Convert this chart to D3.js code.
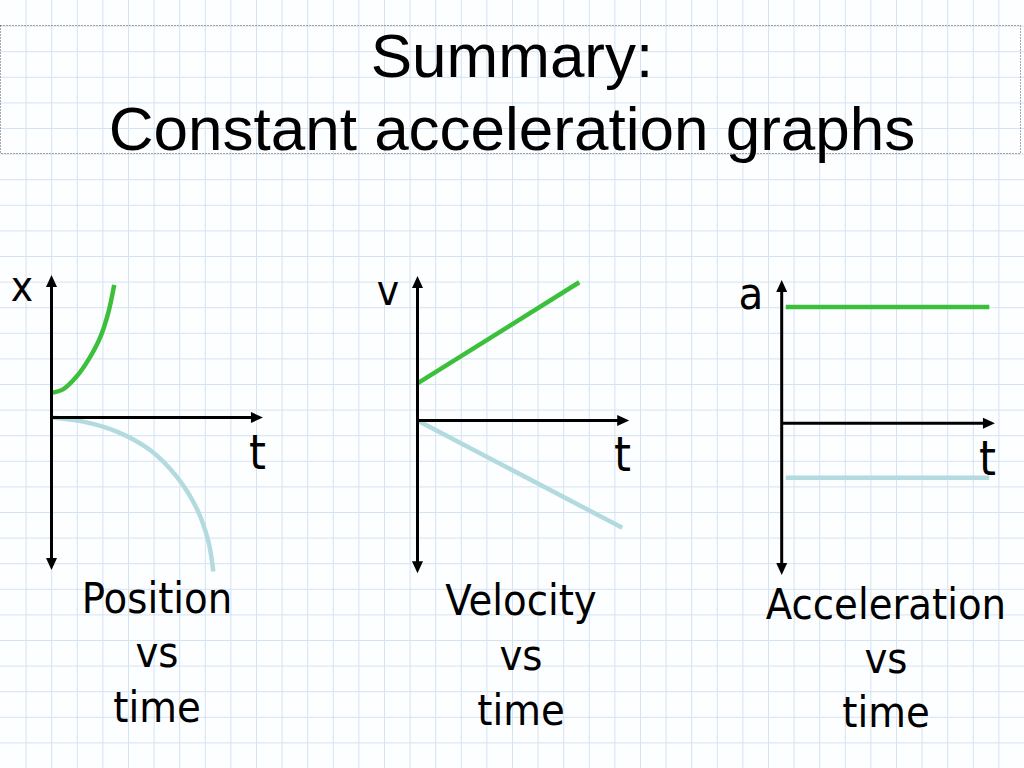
<!DOCTYPE html>
<html><head><meta charset="utf-8">
<script src="https://cdn.jsdelivr.net/npm/d3@7"></script>
<style>body{margin:0;background:#fff}svg{display:block}</style>
</head><body><svg id="c" width="1024" height="768"></svg>
<script>
// ---- text ----
const titleLines = ["Summary:", "Constant acceleration graphs"];
const panelNames = ["Position", "Velocity", "Acceleration"];
const vsLines = ["vs", "time"];
const axisLabels = ["x", "v", "a"];
const timeLabel = "t";
// ---- data (grid-cell units: [t, value]) ----
const posIncreasing = [[0.0,0.97],[0.45,1.1],[0.98,1.6],[1.44,2.25],[1.89,3.1],[2.22,4.1],[2.45,5.18]];
const posDecreasing = [[0,0],[1.24,-0.16],[2.55,-0.55],[3.85,-1.27],[4.89,-2.31],[5.67,-3.55],[6.13,-4.85],[6.32,-6.02]];
const velIncreasing = [[0,1.45],[6.32,5.40]];
const velDecreasing = [[0,0],[8.0,-4.19]];
const accPositive = [[0.16,4.54],[8.11,4.54]];
const accNegative = [[0.16,-2.13],[8.11,-2.13]];
const axisTEnd = [8.26, 8.27, 8.33];
const axisTop = [5.57, 5.64, 5.6];
const axisBottom = [-5.96, -5.97, -5.93];

const W = 1024, H = 768, cell = 25.6;
const svg = d3.select("#c");
const GREEN = "#3cc03c", BLUE = "#b3dadf";

// grid background
const gx = d3.scaleLinear().domain([0, 40]).range([0, W]);
const gy = d3.scaleLinear().domain([0, 30]).range([0, H]);
svg.append("rect").attr("width", W).attr("height", H).attr("fill", "#fdfeff");
svg.append("g").selectAll("line").data(d3.range(1, 40)).join("line")
  .attr("x1", d => gx(d) + 0.5).attr("x2", d => gx(d) + 0.5).attr("y1", 0).attr("y2", H)
  .attr("stroke", "#d4e3f2").attr("stroke-width", 1);
svg.append("g").selectAll("line").data(d3.range(1, 30)).join("line")
  .attr("y1", d => gy(d) + 0.5).attr("y2", d => gy(d) + 0.5).attr("x1", 0).attr("x2", W)
  .attr("stroke", "#d4e3f2").attr("stroke-width", 1);

// title box
svg.append("rect").attr("x", 0.5).attr("y", 25.5).attr("width", 1020).attr("height", 128)
  .attr("fill", "none").attr("stroke", "#555").attr("stroke-width", 1).attr("stroke-dasharray", "1,2");
svg.append("g").selectAll("text").data(titleLines).join("text")
  .attr("x", 512).attr("y", (d, i) => [77, 150][i])
  .attr("text-anchor", "middle").attr("font-family", "'Liberation Sans', Arial, sans-serif")
  .attr("font-size", 62).attr("fill", "#000").text(d => d);

const origins = [[51.5, 417.5], [417.5, 420.5], [781.7, 423.3]];
const seriesByPanel = [
  [[posIncreasing, GREEN], [posDecreasing, BLUE]],
  [[velIncreasing, GREEN], [velDecreasing, BLUE]],
  [[accPositive, GREEN], [accNegative, BLUE]]
];
const axisLabelPos = [[22, 301, 42], [388, 305, 42], [751, 309, 45]];
const tLabelPos = [[257.5, 469], [622.5, 471], [987.5, 475]];
const nameCenters = [157, 521, 886];
const nameBaselines = [[613, 667, 722], [615, 670, 725], [619, 673, 727]];
const labelFont = "'DejaVu Sans Condensed', 'DejaVu Sans', sans-serif";

function arrow(g, x, y, dir) {
  const L = 12, Wd = 5.5;
  let pts;
  if (dir === "up") pts = [[x, y], [x - Wd, y + L], [x + Wd, y + L]];
  else if (dir === "down") pts = [[x, y], [x - Wd, y - L], [x + Wd, y - L]];
  else pts = [[x, y], [x - L, y - Wd], [x - L, y + Wd]];
  g.append("path").attr("d", d3.line()(pts) + "Z").attr("fill", "#000");
}

origins.forEach(([ox, oy], i) => {
  const x = d3.scaleLinear().domain([0, 1]).range([ox, ox + cell]);
  const y = d3.scaleLinear().domain([0, 1]).range([oy, oy - cell]);
  const g = svg.append("g");

  seriesByPanel[i].forEach(([data, col]) => {
    g.append("path").datum(data)
      .attr("d", d3.line().x(d => x(d[0])).y(d => y(d[1])).curve(d3.curveCatmullRom.alpha(0.5)))
      .attr("fill", "none").attr("stroke", col).attr("stroke-width", 4.5)
      .attr("stroke-linecap", "butt");
  });

  const yTop = y(axisTop[i]), yBot = y(axisBottom[i]), xEnd = x(axisTEnd[i]);
  g.append("line").attr("x1", x(0)).attr("x2", x(0)).attr("y1", yTop + 8).attr("y2", yBot - 8)
    .attr("stroke", "#000").attr("stroke-width", 3);
  g.append("line").attr("x1", x(0)).attr("x2", xEnd - 8).attr("y1", y(0)).attr("y2", y(0))
    .attr("stroke", "#000").attr("stroke-width", 3);
  arrow(g, x(0), yTop, "up");
  arrow(g, x(0), yBot, "down");
  arrow(g, xEnd, y(0), "right");

  const [lx, ly, ls] = axisLabelPos[i];
  g.append("text").attr("x", lx).attr("y", ly).attr("text-anchor", "middle")
    .attr("font-family", labelFont).attr("font-size", ls).text(axisLabels[i]);
  g.append("text").attr("x", tLabelPos[i][0]).attr("y", tLabelPos[i][1]).attr("text-anchor", "middle")
    .attr("font-family", labelFont).attr("font-size", 48).text(timeLabel);

  g.append("g").selectAll("text").data([panelNames[i], ...vsLines]).join("text")
    .attr("x", nameCenters[i]).attr("y", (d, k) => nameBaselines[i][k])
    .attr("text-anchor", "middle").attr("font-family", labelFont).attr("font-size", 43)
    .text(d => d);
});
</script></body></html>
